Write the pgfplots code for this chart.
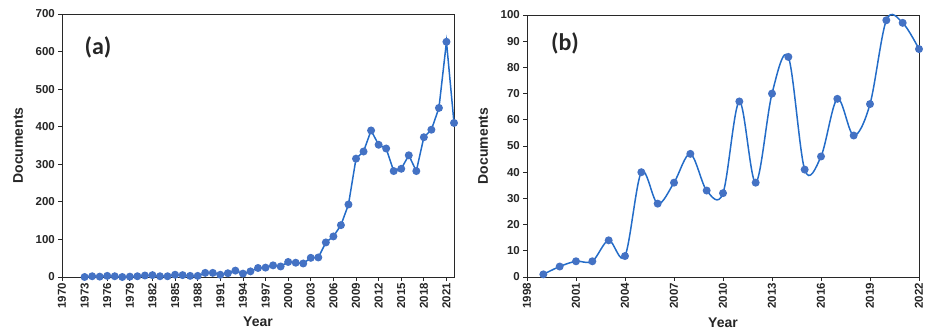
\documentclass[border=0pt]{standalone}
\usepackage{pgfplots}
\pgfplotsset{compat=1.18}
\usepackage{fontspec}
\setmainfont{Liberation Sans}
\newfontfamily\calib{Carlito}
\definecolor{lineblue}{RGB}{35,108,200}
\definecolor{markblue}{RGB}{68,114,196}
\definecolor{frame}{RGB}{40,40,40}
\pgfplotsset{
  mystyle/.style={
    scale only axis,
    anchor=south west,
    axis line style={frame, line width=0.9pt},
    tick align=outside,
    major tick length=4pt,
    tick style={frame, line width=0.8pt},
    /pgf/number format/assume math mode=true,
    /pgf/number format/1000 sep={},
    ticklabel style={font=\bfseries\fontsize{11.5}{13}\selectfont, text=black!85},
    label style={font=\bfseries\fontsize{14}{16}\selectfont, text=black!85},
    x tick label style={rotate=90, anchor=east, inner sep=2pt},
    y tick label style={inner sep=3pt},
    xtick pos=bottom, ytick pos=left,
  }
}
\begin{document}
\begin{tikzpicture}
\useasboundingbox (0pt,0pt) rectangle (925pt,331pt);
% ---------- (a)
\begin{axis}[mystyle, at={(62pt,54pt)}, width=392pt, height=263pt,
  xmin=1970, xmax=2022, ymin=0, ymax=700,
  xtick={1970,1973,...,2021}, ytick={0,100,...,700},
  xlabel={Year}, ylabel={Documents},
  xlabel style={at={(axis description cs:0.5,-0.171)}, anchor=center},
  ylabel style={at={(axis description cs:-0.112,0.5)}, anchor=center, rotate=0},
  clip=false]
\addplot[lineblue, line width=1.5pt, mark=*, mark size=3.2pt,
  mark options={fill=markblue, draw=markblue}] coordinates {
(1973,0)(1974,2)(1975,1)(1976,3)(1977,2)(1978,0)(1979,1)(1980,2)(1981,4)(1982,5)
(1983,2)(1984,2)(1985,6)(1986,5)(1987,3)(1988,3)(1989,11)(1990,11)(1991,6)(1992,10)
(1993,17)(1994,9)(1995,15)(1996,24)(1997,25)(1998,31)(1999,28)(2000,40)(2001,38)(2002,36)
(2003,51)(2004,52)(2005,92)(2006,108)(2007,138)(2008,193)(2009,315)(2010,334)(2011,390)(2012,352)
(2013,342)(2014,282)(2015,288)(2016,324)(2017,282)(2018,372)(2019,392)(2020,450)(2021,626)(2022,410)
};
\end{axis}
% ---------- (b)
\begin{axis}[mystyle, at={(527pt,54pt)}, width=392pt, height=262pt,
  xmin=1998, xmax=2022, ymin=0, ymax=100,
  xtick={1998,2001,...,2022}, ytick={0,10,...,100},
  xlabel={Year}, ylabel={Documents},
  xlabel style={at={(axis description cs:0.5,-0.176)}, anchor=center},
  ylabel style={at={(axis description cs:-0.112,0.5)}, anchor=center, rotate=0},
  clip=false]
\addplot[lineblue, line width=1.5pt, smooth, tension=0.55, mark=*, mark size=3.2pt,
  mark options={fill=markblue, draw=markblue}] coordinates {
(1999,1)(2000,4)(2001,6)(2002,6)(2003,14)(2004,8)(2005,40)(2006,28)(2007,36)(2008,47)
(2009,33)(2010,32)(2011,67)(2012,36)(2013,70)(2014,84)(2015,41)(2016,46)(2017,68)(2018,54)
(2019,66)(2020,98)(2021,97)(2022,87)
};
\end{axis}
\node[font=\calib\bfseries\fontsize{24}{27}\selectfont, text=black!85] at (98pt,284pt) {(a)};
\node[font=\calib\bfseries\fontsize{24}{27}\selectfont, text=black!85] at (565pt,288pt) {(b)};
\end{tikzpicture}
\end{document}
